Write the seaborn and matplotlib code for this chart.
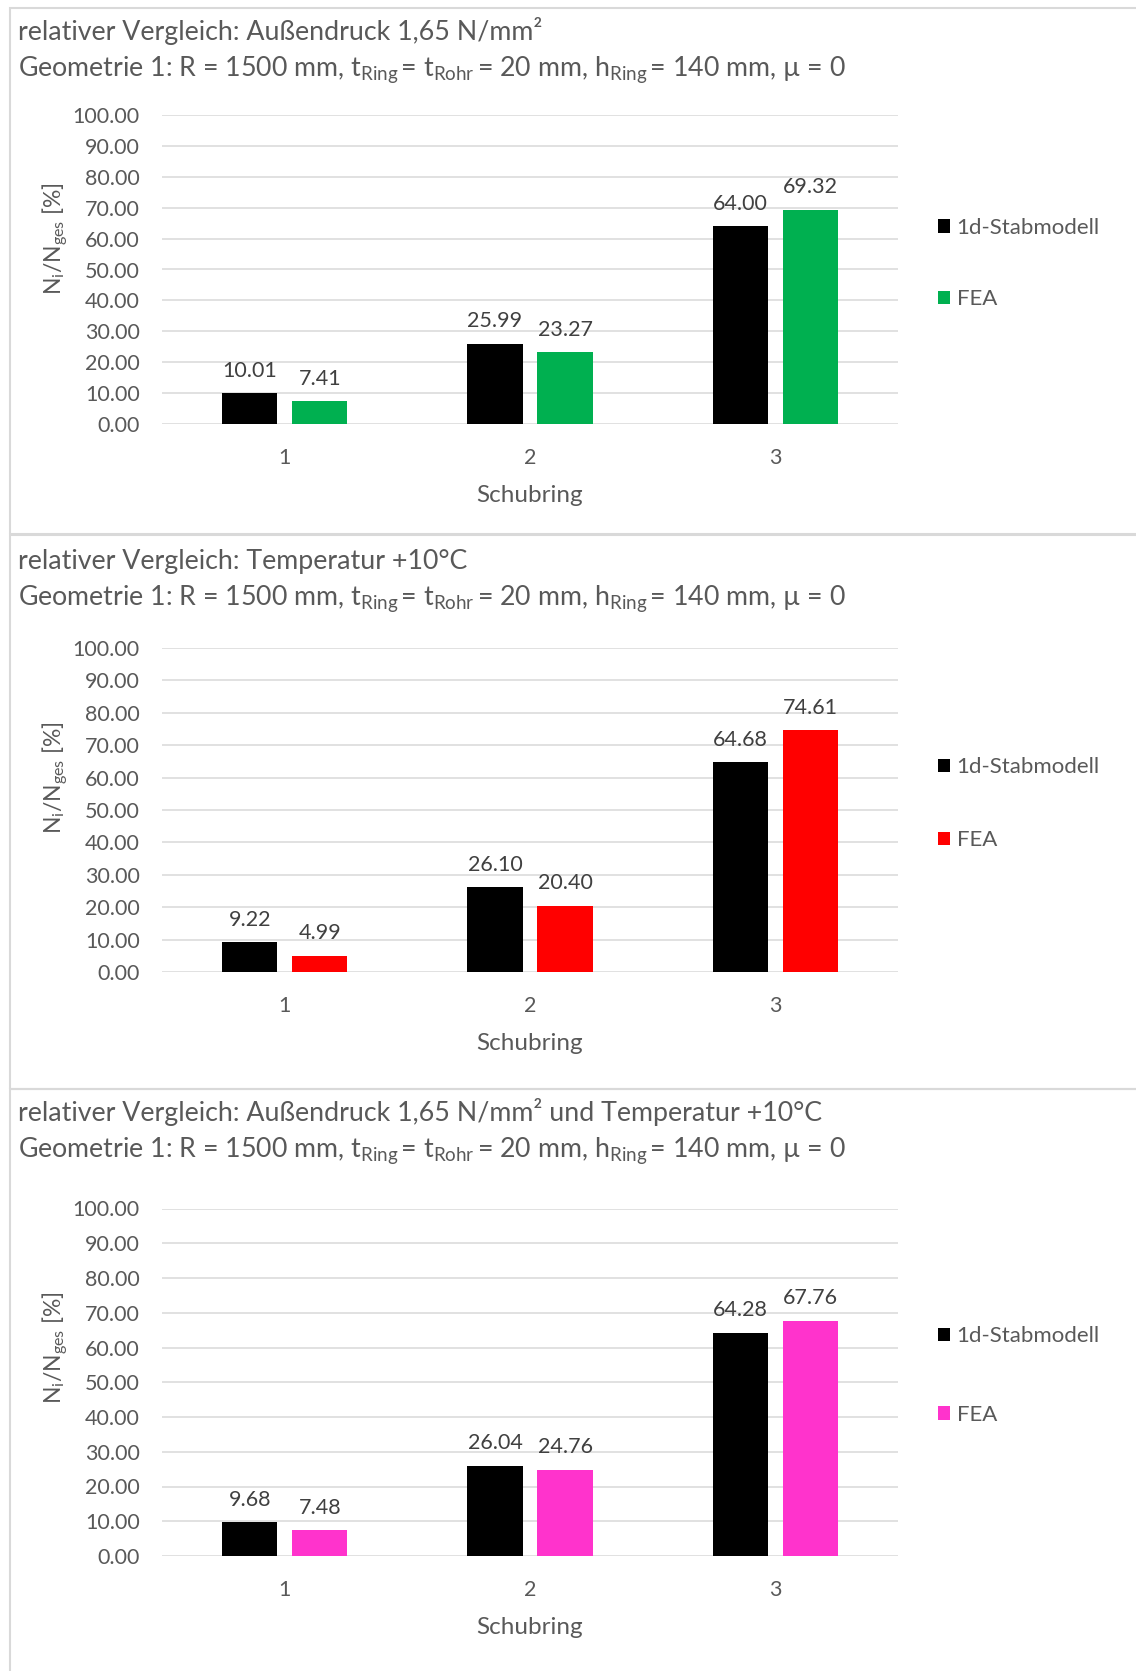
import matplotlib
matplotlib.use("Agg")
import matplotlib.pyplot as plt
from matplotlib.patches import Rectangle
import pandas as pd
import seaborn as sns

# --- data -------------------------------------------------------------
schubring = ["1", "2", "3"]
modelle = ["1d-Stabmodell", "FEA"]

stab_aussendruck = [10.01, 25.99, 64.00]
fea_aussendruck = [7.41, 23.27, 69.32]

stab_temperatur = [9.22, 26.10, 64.68]
fea_temperatur = [4.99, 20.40, 74.61]

stab_kombi = [9.68, 26.04, 64.28]
fea_kombi = [7.48, 24.76, 67.76]

titel = [
    "relativer Vergleich: Außendruck 1,65 N/mm²",
    "relativer Vergleich: Temperatur +10°C",
    "relativer Vergleich: Außendruck 1,65 N/mm² und Temperatur +10°C",
]
geometrie = (r"Geometrie 1: R = 1500 mm, t$_{\mathrm{Ring}}\,$= t$_{\mathrm{Rohr}}\,$= 20 mm, "
             r"h$_{\mathrm{Ring}}\,$= 140 mm, µ = 0")
y_label = r"N$_{\mathrm{i}}$/N$_{\mathrm{ges}}$ [%]"
x_label = "Schubring"
y_ticks = [0, 10, 20, 30, 40, 50, 60, 70, 80, 90, 100]

fea_farben = ["#00B050", "#FF0000", "#FF33CC"]
stab_farbe = "#000000"

# --- style --------------------------------------------------------------
sns.set_theme(style="white")
plt.rcParams["font.family"] = ["Lato", "DejaVu Sans"]
plt.rcParams["mathtext.fontset"] = "custom"
plt.rcParams["mathtext.rm"] = "Lato"
plt.rcParams["mathtext.it"] = "Lato:italic"
plt.rcParams["mathtext.bf"] = "Lato:bold"

TXT = "#595959"
LBL = "#404040"
GRID = "#D9D9D9"
FS_TICK = 15.5
FS_LEG = 16
FS_TITLE = 19.3
FS_XL = 17.5
FS_YL = 16.5

W, H = 1136, 1671
fig = plt.figure(figsize=(W / 100, H / 100), dpi=100)

# panel layout in pixels: frame top/bottom, plot top/bottom, title lines, legend spacing
panels = [
    dict(frame=(8, 534), top=115, bottom=424, t1=31, t2=70, spacing=2.32),
    dict(frame=(535, 1089), top=648, bottom=972, t1=561, t2=599, spacing=2.39),
    dict(frame=(1089, 1680), top=1208.5, bottom=1556, t1=1112.5, t2=1151, spacing=2.63),
]
reihen = [
    (stab_aussendruck, fea_aussendruck),
    (stab_temperatur, fea_temperatur),
    (stab_kombi, fea_kombi),
]

AX_L, AX_R = 162, 898

for i, (p, (stab, fea)) in enumerate(zip(panels, reihen)):
    # light frame around each chart
    f0, f1 = p["frame"]
    fig.add_artist(Rectangle((10 / W, 1 - f1 / H), 1.2, (f1 - f0) / H,
                             transform=fig.transFigure, fill=False,
                             edgecolor=GRID, linewidth=1.5, zorder=0))

    ax = fig.add_axes([AX_L / W, 1 - p["bottom"] / H,
                       (AX_R - AX_L) / W, (p["bottom"] - p["top"]) / H])

    df = pd.DataFrame({
        "Schubring": schubring * 2,
        "Modell": [modelle[0]] * 3 + [modelle[1]] * 3,
        "Wert": list(stab) + list(fea),
    })
    sns.barplot(data=df, x="Schubring", y="Wert", hue="Modell",
                palette=[stab_farbe, fea_farben[i]], saturation=1,
                width=0.571, gap=0.214, linewidth=0, ax=ax, zorder=3)

    for cont in ax.containers:
        ax.bar_label(cont, fmt="%.2f", padding=9, color=LBL, fontsize=FS_TICK)

    ax.set_ylim(0, 100)
    ax.set_yticks(y_ticks)
    ax.set_yticklabels([f"{v:.2f}" for v in y_ticks])
    ax.yaxis.grid(True, color=GRID, linewidth=1.1, zorder=0)
    ax.set_axisbelow(True)
    for s in ax.spines.values():
        s.set_visible(False)
    ax.tick_params(axis="both", length=0, colors=TXT, labelsize=FS_TICK)
    ax.tick_params(axis="y", pad=16)
    ax.tick_params(axis="x", pad=17.5)

    h_px = p["bottom"] - p["top"]
    ax.set_xlabel(x_label, color=TXT, fontsize=FS_XL)
    ax.xaxis.set_label_coords(0.5, -61 / h_px)
    ax.set_ylabel(y_label, color=TXT, fontsize=FS_YL)
    ax.yaxis.set_label_coords(-92 / (AX_R - AX_L), 0.60)

    handles, labels = ax.get_legend_handles_labels()
    ax.legend(handles, labels, loc="center left",
              bbox_to_anchor=(1.054, 0.519), frameon=False, fontsize=FS_LEG,
              labelcolor=TXT, handlelength=0.55, handleheight=0.55,
              handletextpad=0.3, borderpad=0, borderaxespad=0,
              labelspacing=p["spacing"])

    fig.text(18 / W, 1 - p["t1"] / H, titel[i], color=TXT, fontsize=FS_TITLE,
             va="center", ha="left")
    fig.text(18 / W, 1 - p["t2"] / H, geometrie, color=TXT, fontsize=FS_TITLE,
             va="center", ha="left")

fig.savefig("out.png", dpi=100, facecolor="white")
